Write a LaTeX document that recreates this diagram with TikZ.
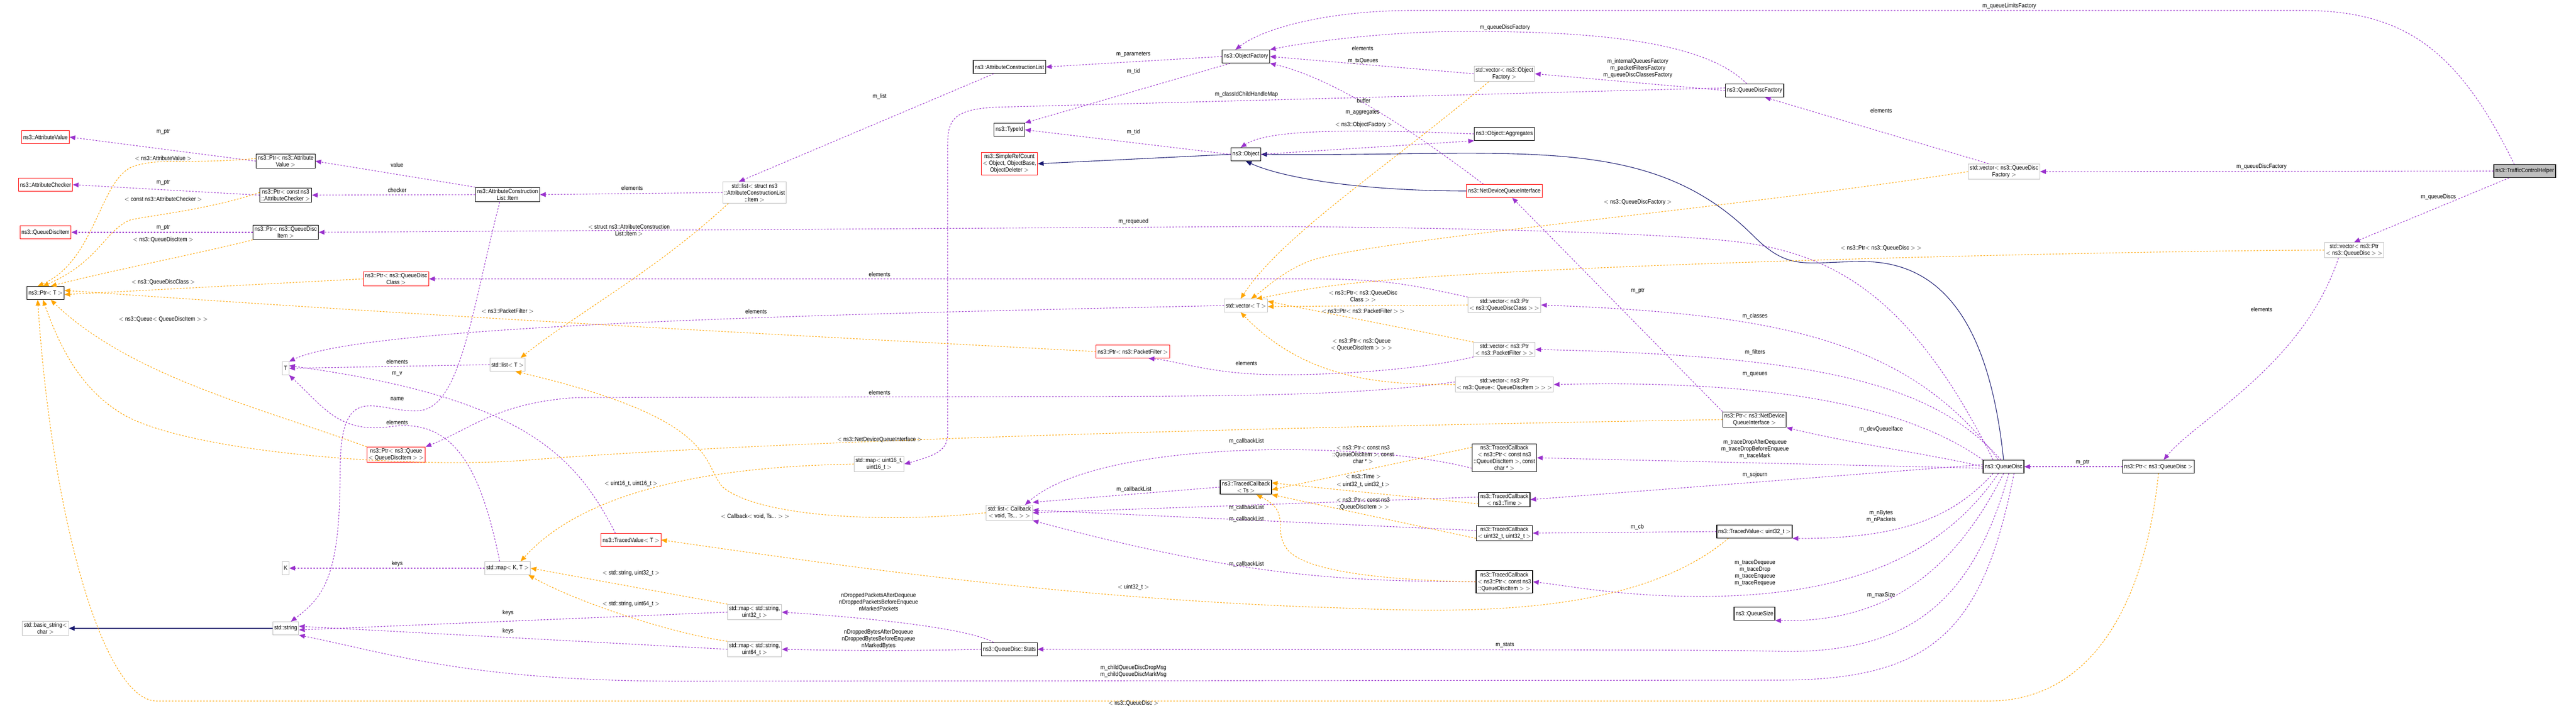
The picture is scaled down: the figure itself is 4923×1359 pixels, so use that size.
\documentclass[tikz,border=0pt]{standalone}
\usepackage{fontspec}
\setmainfont[FakeStretch=0.88]{Liberation Sans}
\usetikzlibrary{arrows.meta}
\definecolor{usecol}{HTML}{9A32CD}
\definecolor{tplcol}{HTML}{FFA500}
\definecolor{inhcol}{HTML}{191970}
\definecolor{greycol}{HTML}{BFBFBF}
\begin{document}
\begin{tikzpicture}
[%%%%%%%%%%%%%%%%%%%%%%%%%%%%%%
x=1pt,y=-1pt,
cls/.style={rectangle,draw=black,line width=1.2pt,fill=white,align=center,font=\fontsize{11.5}{13}\selectfont,inner sep=3pt,minimum height=25},
redcls/.style={cls,draw=red,line width=1pt},
grey/.style={cls,draw=greycol,line width=1pt},
lbl/.style={align=center,font=\fontsize{11.5}{13}\selectfont,inner sep=1pt},
use/.style={draw=usecol,dashed,line width=1.1pt,-{Triangle[length=11pt,width=9pt]}},
tpl/.style={draw=tplcol,dashed,line width=1.1pt,-{Triangle[length=11pt,width=9pt]}},
inh/.style={draw=inhcol,line width=1.1pt,-{Triangle[length=11pt,width=9pt]}},
]%%%%%%%%%%%%%%%%%%%%%%%%%%%%%%
\useasboundingbox (0,0) rectangle (4923,1359);

% left column
\node[redcls] (av) at (87,262){ns3::AttributeValue};
\node[redcls] (ac) at (87,353){ns3::AttributeChecker};
\node[redcls] (qi) at (87,444){ns3::QueueDiscItem};
\node[cls] (ptrT) at (87,560){ns3::Ptr$<$ T $>$};
\node[grey] (bstr) at (87,1201){std::basic\_string$<$\\char $>$};
\node[cls] (pav) at (546,308){ns3::Ptr$<$ ns3::Attribute\\Value $>$};
\node[cls] (pac) at (546,373){ns3::Ptr$<$ const ns3\\::AttributeChecker $>$};
\node[cls] (pqi) at (546,444){ns3::Ptr$<$ ns3::QueueDisc\\Item $>$};
\node[grey] (T) at (546,704){T};
\node[grey] (K) at (546,1086){K};
\node[grey] (str) at (546,1201){std::string};
\node[redcls] (pqdc) at (757,533){ns3::Ptr$<$ ns3::QueueDisc\\Class $>$};
\node[redcls] (pq) at (757,869){ns3::Ptr$<$ ns3::Queue\\$<$ QueueDiscItem $>$ $>$};
\node[cls] (acli) at (970,372){ns3::AttributeConstruction\\List::Item};
\node[grey] (listT) at (970,697){std::list$<$ T $>$};
\node[grey] (mapKT) at (970,1086){std::map$<$ K, T $>$};
\node[redcls] (tvT) at (1206,1032){ns3::TracedValue$<$ T $>$};
\node[grey] (lacl) at (1442,368){std::list$<$ struct ns3\\::AttributeConstructionList\\::Item $>$};
\node[grey] (m32) at (1442,1170){std::map$<$ std::string,\\uint32\_t $>$};
\node[grey] (m64) at (1442,1241){std::map$<$ std::string,\\uint64\_t $>$};
\node[grey] (m16) at (1680,887){std::map$<$ uint16\_t,\\uint16\_t $>$};
% middle
\node[cls] (acl) at (1929,128){ns3::AttributeConstructionList};
\node[cls] (tid) at (1929,248){ns3::TypeId};
\node[redcls] (src) at (1929,313){ns3::SimpleRefCount\\$<$ Object, ObjectBase,\\ObjectDeleter $>$};
\node[grey] (lcb) at (1929,980){std::list$<$ Callback\\$<$ void, Ts... $>$ $>$};
\node[cls] (stats) at (1929,1241){ns3::QueueDisc::Stats};
\node[redcls] (ppf) at (2165,672){ns3::Ptr$<$ ns3::PacketFilter $>$};
\node[cls] (of) at (2381,108){ns3::ObjectFactory};
\node[cls] (obj) at (2381,295){ns3::Object};
\node[grey] (vT) at (2381,584){std::vector$<$ T $>$};
\node[cls] (tcts) at (2381,931){ns3::TracedCallback\\$<$ Ts $>$};
\node[grey] (vof) at (2875,141){std::vector$<$ ns3::Object\\Factory $>$};
\node[cls] (agg) at (2875,256){ns3::Object::Aggregates};
\node[redcls] (ndqi) at (2875,365){ns3::NetDeviceQueueInterface};
\node[grey] (vpqdc) at (2875,583){std::vector$<$ ns3::Ptr\\$<$ ns3::QueueDiscClass $>$ $>$};
\node[grey] (vppf) at (2875,668){std::vector$<$ ns3::Ptr\\$<$ ns3::PacketFilter $>$ $>$};
\node[grey] (vpq) at (2875,735){std::vector$<$ ns3::Ptr\\$<$ ns3::Queue$<$ QueueDiscItem $>$ $>$ $>$};
\node[cls] (tcqic) at (2875,875){ns3::TracedCallback\\$<$ ns3::Ptr$<$ const ns3\\::QueueDiscItem $>$, const\\char * $>$};
\node[cls] (tct) at (2875,955){ns3::TracedCallback\\$<$ ns3::Time $>$};
\node[cls] (tcu) at (2875,1019){ns3::TracedCallback\\$<$ uint32\_t, uint32\_t $>$};
\node[cls] (tcqi) at (2875,1112){ns3::TracedCallback\\$<$ ns3::Ptr$<$ const ns3\\::QueueDiscItem $>$ $>$};
\node[cls] (qdf) at (3353,173){ns3::QueueDiscFactory};
\node[cls] (pndqi) at (3353,802){ns3::Ptr$<$ ns3::NetDevice\\QueueInterface $>$};
\node[cls] (tvu) at (3353,1016){ns3::TracedValue$<$ uint32\_t $>$};
\node[cls] (qs) at (3353,1173){ns3::QueueSize};
\node[grey] (vqdf) at (3830,328){std::vector$<$ ns3::QueueDisc\\Factory $>$};
\node[cls] (qd) at (3829,892){ns3::QueueDisc};
\node[cls] (pqd) at (4125,892){ns3::Ptr$<$ ns3::QueueDisc $>$};
\node[grey] (vpqd) at (4499,478){std::vector$<$ ns3::Ptr\\$<$ ns3::QueueDisc $>$ $>$};
\node[cls,fill=black!25] (tch) at (4825,327){ns3::TrafficControlHelper};

% inheritance
\draw[inh] (obj.west) -- (src.east);
\draw[inh] (ndqi.west) .. controls (2600,365) and (2450,340) .. (obj.south);
\draw[inh] (qd.north) .. controls (3800,600) and (3700,500) .. (3560,500) .. controls (3450,500) and (3420,520) .. (3350,450) .. controls (3150,250) and (2900,300) .. (obj.east);
\draw[inh] (str.west) -- (bstr.east);

% members
\draw[use] (pav.west) -- (av.east);
\draw[use] (pac.west) -- (ac.east);
\draw[use] (pqi.west) -- (qi.east);
\draw[use] (acli.north west) -- (pav.east);
\draw[use] (acli.west) -- (pac.east);
\draw[use] (lacl.west) -- (acli.east);
\draw[use] ([xshift=-30]acl.south) -- ([xshift=-30]lacl.north);
\draw[use] (of.west) -- (acl.east);
\draw[use] ([xshift=-30]of.south) -- (tid.north east);
\draw[use] (obj.west) -- (tid.east);
\draw[use] (agg.west) .. controls (2550,245) and (2420,250) .. ([xshift=-10]obj.north);
\draw[use] (obj.east) -- (agg.south west);
\draw[use] (vof.west) -- (of.east);
\draw[use] (qdf.west) -- (vof.east);
\draw[use] ([xshift=-15]qdf.north) .. controls (3250,70) and (3000,60) .. (2800,60) .. controls (2650,60) and (2500,80) .. (of.north east);
\draw[use] ([xshift=-20]tch.north) .. controls (4700,100) and (4600,20) .. (4400,20) -- (2700,20) .. controls (2550,20) and (2420,50) .. ([xshift=-20]of.north);
\draw[use] ([xshift=-40]ndqi.north) .. controls (2700,250) and (2550,150) .. (of.south east);
\draw[use] ([yshift=5]qdf.west) -- (1900,205) .. controls (1820,210) and (1811,230) .. (1811,280) -- (1811,830) .. controls (1811,860) and (1790,870) .. (m16.east);
\draw[use] ([xshift=-30]vqdf.north) -- ([xshift=20]qdf.south);
\draw[use] (tch.west) -- (vqdf.east);
\draw[use] ([xshift=-30]tch.south) -- (vpqd.north);
\draw[use] ([xshift=-30]vpqd.south) .. controls (4400,700) and (4200,800) .. ([xshift=10]pqd.north);
\draw[use] (pqd.west) -- (qd.east);
\draw[use] (pndqi.north west) -- ([xshift=15]ndqi.south);
\draw[use] ([xshift=-20]qd.north) .. controls (3650,560) and (3500,480) .. (3300,460) .. controls (3100,440) and (2600,433) .. (2400,433) -- (pqi.east);
\draw[use] ([xshift=-10]qd.north) .. controls (3650,650) and (3400,600) .. (vpqdc.east);
\draw[use] ([xshift=-5]qd.north) .. controls (3700,740) and (3500,680) .. (vppf.east);
\draw[use] (qd.north west) .. controls (3650,780) and (3400,725) .. (vpq.east);
\draw[use] (qd.west) .. controls (3700,870) and (3550,850) .. (pndqi.south east);
\draw[use] ([yshift=-3]qd.west) -- (tcqic.east);
\draw[use] ([yshift=4]qd.west) -- (tct.east);
\draw[use] ([xshift=-20]qd.south) .. controls (3740,980) and (3650,1030) .. (tvu.south east);
\draw[use] ([xshift=-10]qd.south) .. controls (3700,1080) and (3500,1140) .. (3250,1140) .. controls (3100,1140) and (3000,1120) .. (tcqi.east);
\draw[use] (qd.south) .. controls (3730,1100) and (3600,1190) .. (qs.south east);
\draw[use] ([xshift=10]qd.south) .. controls (3770,1150) and (3650,1250) .. (3400,1245) .. controls (3300,1242) and (3000,1242) .. (stats.east);
\draw[use] ([xshift=20]qd.south) .. controls (3790,1200) and (3700,1300) .. (3400,1300) -- (1300,1302) .. controls (900,1302) and (750,1250) .. (str.south east);
\draw[use] (vpqdc.north west) .. controls (2700,545) and (2650,533) .. (2500,533) -- (pqdc.east);
\draw[use] (vT.west) .. controls (1600,600) and (700,620) .. (T.north east);
\draw[use] (listT.west) -- (T.east);
\draw[use] ([xshift=-30]tvT.north) .. controls (1100,870) and (1000,760) .. ([yshift=5]T.east);
\draw[use] ([xshift=-15]mapKT.north) .. controls (920,900) and (870,800) .. (750,815) .. controls (650,830) and (620,780) .. (T.south east);
\draw[use] ([xshift=-15]acli.south) .. controls (900,600) and (880,780) .. (800,785) .. controls (720,790) and (650,720) .. (650,900) .. controls (650,1100) and (620,1140) .. ([xshift=10]str.north);
\draw[use] (mapKT.west) -- (K.east);
\draw[use] (m32.west) -- ([yshift=-3]str.east);
\draw[use] (m64.west) -- ([yshift=4]str.east);
\draw[use] ([xshift=-30]stats.north) .. controls (1850,1200) and (1650,1180) .. (m32.east);
\draw[use] (stats.west) .. controls (1700,1245) and (1600,1243) .. (m64.east);
\draw[use] (vppf.south west) .. controls (2700,710) and (2500,720) .. (2400,715) .. controls (2300,710) and (2250,690) .. ([xshift=30]ppf.south);
\draw[use] ([yshift=5]vpq.west) .. controls (2600,755) and (2400,758) .. (1950,758) -- (1100,760) .. controls (950,770) and (900,820) .. (pq.north east);
\draw[use] ([yshift=-20]tcqic.west) .. controls (2600,840) and (2100,840) .. ([xshift=30]lcb.north);
\draw[use] (tcts.west) -- ([yshift=5]lcb.north east);
\draw[use] ([yshift=5]tct.west) -- (lcb.east);
\draw[use] ([yshift=5]tcu.west) -- ([yshift=5]lcb.east);
\draw[use] (tcqi.west) .. controls (2600,1110) and (2400,1110) .. (lcb.south east);
\draw[use] (tvu.west) -- (tcu.east);

% templates
\draw[tpl] ([yshift=5]pav.west) .. controls (350,315) and (300,300) .. (250,320) .. controls (190,350) and (180,500) .. ([xshift=-15]ptrT.north);
\draw[tpl] ([yshift=5]pac.west) .. controls (400,400) and (300,410) .. (250,420) .. controls (200,440) and (190,500) .. ([xshift=-5]ptrT.north);
\draw[tpl] (pqi.south west) .. controls (400,480) and (200,520) .. ([xshift=10]ptrT.north);
\draw[tpl] (pqdc.west) -- ([yshift=-3]ptrT.east);
\draw[tpl] (ppf.west) .. controls (1500,640) and (900,610) .. ([yshift=5]ptrT.east);
\draw[tpl] (pq.north west) .. controls (500,780) and (250,720) .. ([xshift=10]ptrT.south);
\draw[tpl] (pndqi.west) .. controls (2500,815) and (1500,840) .. (1000,880) .. controls (800,895) and (400,870) .. (250,800) .. controls (150,750) and (110,650) .. ([xshift=-5]ptrT.south);
\draw[tpl] (pqd.south) .. controls (4100,1150) and (4000,1340) .. (3800,1340) -- (300,1340) .. controls (200,1340) and (100,1000) .. ([xshift=-15]ptrT.south);
\draw[tpl] ([xshift=-50]lacl.south) .. controls (1250,520) and (1100,600) .. ([xshift=25]listT.north);
\draw[tpl] (m16.west) .. controls (1500,890) and (1150,900) .. ([xshift=25]mapKT.north);
\draw[tpl] (m32.north west) -- (mapKT.east);
\draw[tpl] (m64.north west) .. controls (1280,1210) and (1100,1150) .. ([xshift=40]mapKT.south);
\draw[tpl] ([xshift=-50]tvu.south) .. controls (3100,1200) and (2700,1165) .. (2500,1160) .. controls (2000,1140) and (1600,1080) .. (tvT.east);
\draw[tpl] (lcb.west) .. controls (1700,1000) and (1450,990) .. (1380,930) .. controls (1340,880) and (1370,800) .. ([xshift=15]listT.south);
\draw[tpl] ([xshift=-30]vof.south) .. controls (2650,320) and (2450,450) .. ([xshift=-10]vT.north);
\draw[tpl] (vqdf.west) .. controls (3300,400) and (2600,460) .. (2500,500) .. controls (2450,520) and (2420,550) .. ([xshift=10]vT.north);
\draw[tpl] (vpqd.west) .. controls (4200,478) and (3000,500) .. (2600,540) .. controls (2500,550) and (2460,560) .. ([xshift=20]vT.north);
\draw[tpl] (vpqdc.west) -- ([yshift=-2]vT.east);
\draw[tpl] (vppf.north west) -- ([yshift=8]vT.east);
\draw[tpl] (vpq.west) .. controls (2650,735) and (2500,730) .. ([xshift=-10]vT.south);
\draw[tpl] ([yshift=20]tcqic.west) -- ([yshift=-5]tcts.east);
\draw[tpl] ([yshift=-8]tct.west) -- ([yshift=8]tcts.east);
\draw[tpl] ([yshift=-10]tcu.west) -- (tcts.south east);
\draw[tpl] (tcqi.west) .. controls (2700,1110) and (2500,1100) .. (2460,1050) .. controls (2430,1010) and (2470,980) .. ([xshift=20]tcts.south);

% labels
\node[lbl] (l1) at (312,252){m\_ptr};
\node[lbl] (l2) at (312,302){$<$ ns3::AttributeValue $>$};
\node[lbl] (l3) at (312,349){m\_ptr};
\node[lbl] (l4) at (312,380){$<$ const ns3::AttributeChecker $>$};
\node[lbl] (l5) at (312,435){m\_ptr};
\node[lbl] (l6) at (312,458){$<$ ns3::QueueDiscItem $>$};
\node[lbl] (l7) at (312,539){$<$ ns3::QueueDiscClass $>$};
\node[lbl] (l8) at (312,610){$<$ ns3::Queue$<$ QueueDiscItem $>$ $>$};
\node[lbl] (l9) at (759,315){value};
\node[lbl] (l10) at (759,363){checker};
\node[lbl] (l11) at (1208,359){elements};
\node[lbl] (l12) at (1202,440){$<$ struct ns3::AttributeConstruction\\List::Item $>$};
\node[lbl] (l13) at (970,594){$<$ ns3::PacketFilter $>$};
\node[lbl] (l14) at (759,691){elements};
\node[lbl] (l15) at (759,715){m\_v};
\node[lbl] (l16) at (759,762){name};
\node[lbl] (l17) at (759,807){elements};
\node[lbl] (l18) at (759,1078){keys};
\node[lbl] (l19) at (971,1172){keys};
\node[lbl] (l20) at (971,1207){keys};
\node[lbl] (l21) at (1206,924){$<$ uint16\_t, uint16\_t $>$};
\node[lbl] (l22) at (1206,1096){$<$ std::string, uint32\_t $>$};
\node[lbl] (l23) at (1206,1155){$<$ std::string, uint64\_t $>$};
\node[lbl] (l24) at (1681,184){m\_list};
\node[lbl] (l25) at (1681,524){elements};
\node[lbl] (l26) at (1445,595){elements};
\node[lbl] (l27) at (1681,750){elements};
\node[lbl] (l28) at (1681,840){$<$ ns3::NetDeviceQueueInterface $>$};
\node[lbl] (l29) at (1443,987){$<$ Callback$<$ void, Ts... $>$ $>$};
\node[lbl] (l30) at (1679,1150){nDroppedPacketsAfterDequeue\\nDroppedPacketsBeforeEnqueue\\nMarkedPackets};
\node[lbl] (l31) at (1679,1222){nDroppedBytesAfterDequeue\\nDroppedBytesBeforeEnqueue\\nMarkedBytes};
\node[lbl] (l32) at (2166,104){m\_parameters};
\node[lbl] (l33) at (2166,136){m\_tid};
\node[lbl] (l34) at (2382,181){m\_classIdChildHandleMap};
\node[lbl] (l35) at (2166,252){m\_tid};
\node[lbl] (l36) at (2166,424){m\_requeued};
\node[lbl] (l37) at (2382,694){elements};
\node[lbl] (l38) at (2382,843){m\_callbackList};
\node[lbl] (l39) at (2167,935){m\_callbackList};
\node[lbl] (l40) at (2382,970){m\_callbackList};
\node[lbl] (l41) at (2382,992){m\_callbackList};
\node[lbl] (l42) at (2382,1078){m\_callbackList};
\node[lbl] (l43) at (2166,1122){$<$ uint32\_t $>$};
\node[lbl] (l44) at (2166,1283){m\_childQueueDiscDropMsg\\m\_childQueueDiscMarkMsg};
\node[lbl] (l45) at (2166,1344){$<$ ns3::QueueDisc $>$};
\node[lbl] (l46) at (2604,92){elements};
\node[lbl] (l47) at (2605,117){m\_txQueues};
\node[lbl] (l48) at (2606,192){buffer};
\node[lbl] (l49) at (2604,215){m\_aggregates};
\node[lbl] (l50) at (2606,239){$<$ ns3::ObjectFactory $>$};
\node[lbl] (l51) at (2605,566){$<$ ns3::Ptr$<$ ns3::QueueDisc\\Class $>$ $>$};
\node[lbl] (l52) at (2605,594){$<$ ns3::Ptr$<$ ns3::PacketFilter $>$ $>$};
\node[lbl] (l53) at (2602,659){$<$ ns3::Ptr$<$ ns3::Queue\\$<$ QueueDiscItem $>$ $>$ $>$};
\node[lbl] (l54) at (2605,869){$<$ ns3::Ptr$<$ const ns3\\::QueueDiscItem $>$, const\\char * $>$};
\node[lbl] (l55) at (2605,910){$<$ ns3::Time $>$};
\node[lbl] (l56) at (2605,926){$<$ uint32\_t, uint32\_t $>$};
\node[lbl] (l57) at (2605,963){$<$ ns3::Ptr$<$ const ns3\\::QueueDiscItem $>$ $>$};
\node[lbl] (l58) at (2876,53){m\_queueDiscFactory};
\node[lbl] (l59) at (2876,1233){m\_stats};
\node[lbl] (l60) at (3130,131){m\_internalQueuesFactory\\m\_packetFiltersFactory\\m\_queueDiscClassesFactory};
\node[lbl] (l61) at (3130,387){$<$ ns3::QueueDiscFactory $>$};
\node[lbl] (l62) at (3130,556){m\_ptr};
\node[lbl] (l63) at (3129,1007){m\_cb};
\node[lbl] (l64) at (3354,604){m\_classes};
\node[lbl] (l65) at (3354,673){m\_filters};
\node[lbl] (l66) at (3354,716){m\_queues};
\node[lbl] (l67) at (3354,858){m\_traceDropAfterDequeue\\m\_traceDropBeforeEnqueue\\m\_traceMark};
\node[lbl] (l68) at (3354,908){m\_sojourn};
\node[lbl] (l69) at (3354,1095){m\_traceDequeue\\m\_traceDrop\\m\_traceEnqueue\\m\_traceRequeue};
\node[lbl] (l70) at (3595,211){elements};
\node[lbl] (l71) at (3595,474){$<$ ns3::Ptr$<$ ns3::QueueDisc $>$ $>$};
\node[lbl] (l72) at (3595,820){m\_devQueueIface};
\node[lbl] (l73) at (3595,987){m\_nBytes\\m\_nPackets};
\node[lbl] (l74) at (3595,1137){m\_maxSize};
\node[lbl] (l75) at (3840,12){m\_queueLimitsFactory};
\node[lbl] (l76) at (3980,884){m\_ptr};
\node[lbl] (l77) at (4322,319){m\_queueDiscFactory};
\node[lbl] (l78) at (4660,377){m\_queueDiscs};
\node[lbl] (l79) at (4322,591){elements};
\end{tikzpicture}
\end{document}
